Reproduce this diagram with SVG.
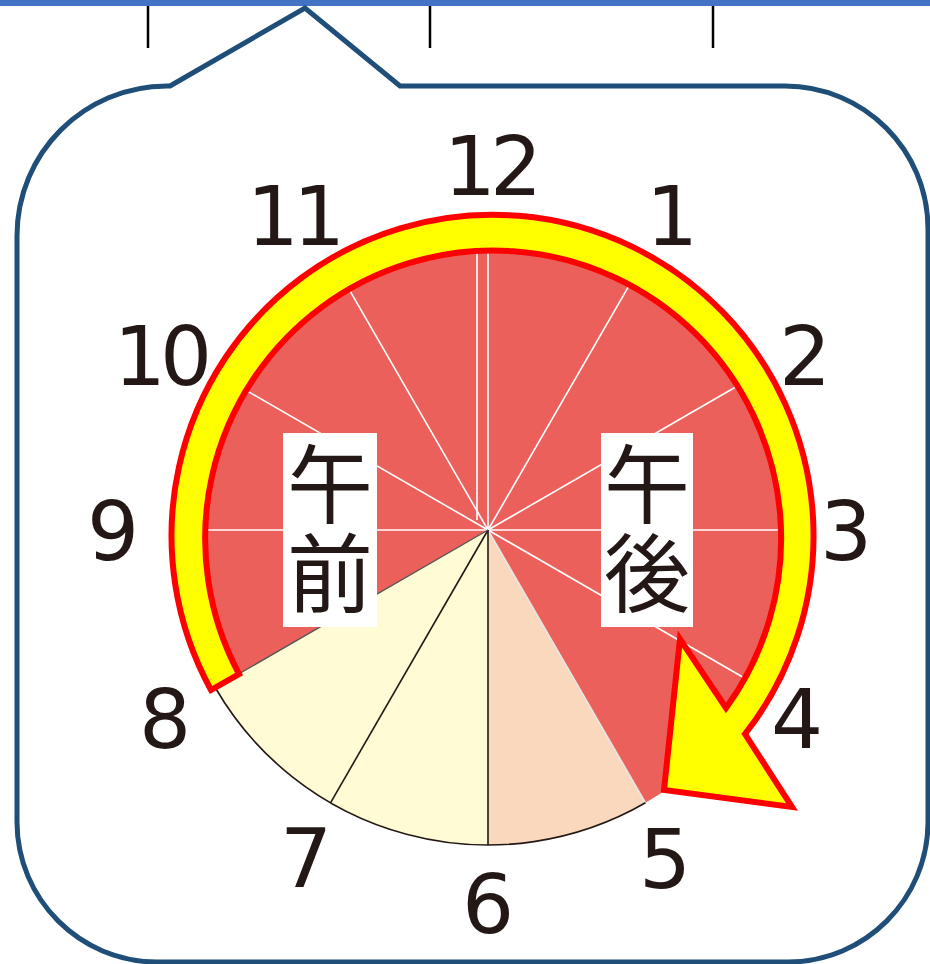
<svg xmlns="http://www.w3.org/2000/svg" width="930" height="964" viewBox="0 0 930 964">
<style>
.num{font-family:"DejaVu Sans","Noto Sans",sans-serif;font-size:82px;fill:#231815;text-anchor:middle}
.cjk{font-family:"Noto Sans CJK JP","Noto Sans CJK SC",sans-serif;font-size:86px;fill:#231815;text-anchor:middle;writing-mode:vertical-rl;letter-spacing:3px}
.wl{stroke:#ffffff;stroke-width:1.6;fill:none}
.bl{stroke:#231815;stroke-width:1.6;fill:none}
.tick{stroke:#000;stroke-width:2.5}
</style>
<rect id="topbar" x="0" y="0" width="930" height="6" fill="#4472C4"/>
<g id="ticks">
<line class="tick" x1="148" y1="6" x2="148" y2="48"/>
<line class="tick" x1="430" y1="6" x2="430" y2="48"/>
<line class="tick" x1="713" y1="6" x2="713" y2="48"/>
</g>
<g id="callout">
<path d="M170 86 L305 8 L400 86 L785 86 C864 86 928 150 928 229 L928 822 C928 899 865 962 788 962 L157 962 C80 962 17 899 17 822 L17 236 C17 153 84 86 167 86 Z" fill="#ffffff" stroke="#1F4E79" stroke-width="5" stroke-linejoin="miter"/>
</g>
<g id="clock">
<path d="M488 530 L215.2 687.5 A315 315 0 1 1 645.5 802.8 Z" fill="#EC605B"/>
<path d="M488 530 L645.5 802.8 A315 315 0 0 1 488 845 Z" fill="#F9D8BD"/>
<path d="M488 530 L488 845 A315 315 0 0 1 215.2 687.5 Z" fill="#FFFBD4"/>
<g id="hourlines">
<line class="wl" x1="488" y1="530" x2="173" y2="530"/>
<line class="wl" x1="488" y1="530" x2="215.2" y2="372.5"/>
<line class="wl" x1="488" y1="530" x2="330.5" y2="257.2"/>
<line class="wl" x1="488" y1="530" x2="488" y2="215"/>
<line class="wl" x1="477" y1="230" x2="477" y2="520"/>
<line class="wl" x1="488" y1="530" x2="645.5" y2="257.2"/>
<line class="wl" x1="488" y1="530" x2="760.8" y2="372.5"/>
<line class="wl" x1="488" y1="530" x2="803" y2="530"/>
<line class="wl" x1="488" y1="530" x2="760.8" y2="687.5"/>
<line x1="488" y1="530" x2="645.5" y2="802.8" stroke="#e6e6e6" stroke-width="1.6"/>
<line class="bl" x1="488" y1="530" x2="488" y2="845"/>
<line class="bl" x1="488" y1="530" x2="330.5" y2="802.8"/>
<line x1="488" y1="530" x2="215.2" y2="687.5" stroke="#555" stroke-width="1.4"/>
<path class="bl" d="M645.5 802.8 A315 315 0 0 1 215.2 687.5"/>
</g>
</g>
<g id="arrow">
<path d="M211 690 A321 321 0 1 1 745 734 L792 807 L664 790 L680 639 L726 708 A288 288 0 1 0 239 674 Z" fill="#FFFF00" stroke="#FF0000" stroke-width="6" stroke-linejoin="miter" stroke-miterlimit="10"/>
</g>
<g id="label-am">
<rect x="283" y="433" width="94" height="194" fill="#ffffff"/>
<text class="cjk" x="330" y="530">午前</text>
</g>
<g id="label-pm">
<rect x="601" y="433" width="92" height="194" fill="#ffffff"/>
<text class="cjk" x="647" y="530">午後</text>
</g>
<g id="numbers">
<text class="num" x="490" y="195" letter-spacing="-6">12</text>
<text class="num" x="672" y="245">1</text>
<text class="num" x="805" y="385">2</text>
<text class="num" x="846" y="560">3</text>
<text class="num" x="797" y="748">4</text>
<text class="num" x="665" y="888">5</text>
<text class="num" x="488" y="933">6</text>
<text class="num" x="306" y="887">7</text>
<text class="num" x="165" y="748">8</text>
<text class="num" x="113" y="560">9</text>
<text class="num" x="160" y="385" letter-spacing="-6">10</text>
<text class="num" x="293" y="245" letter-spacing="-6">11</text>
</g>
</svg>
